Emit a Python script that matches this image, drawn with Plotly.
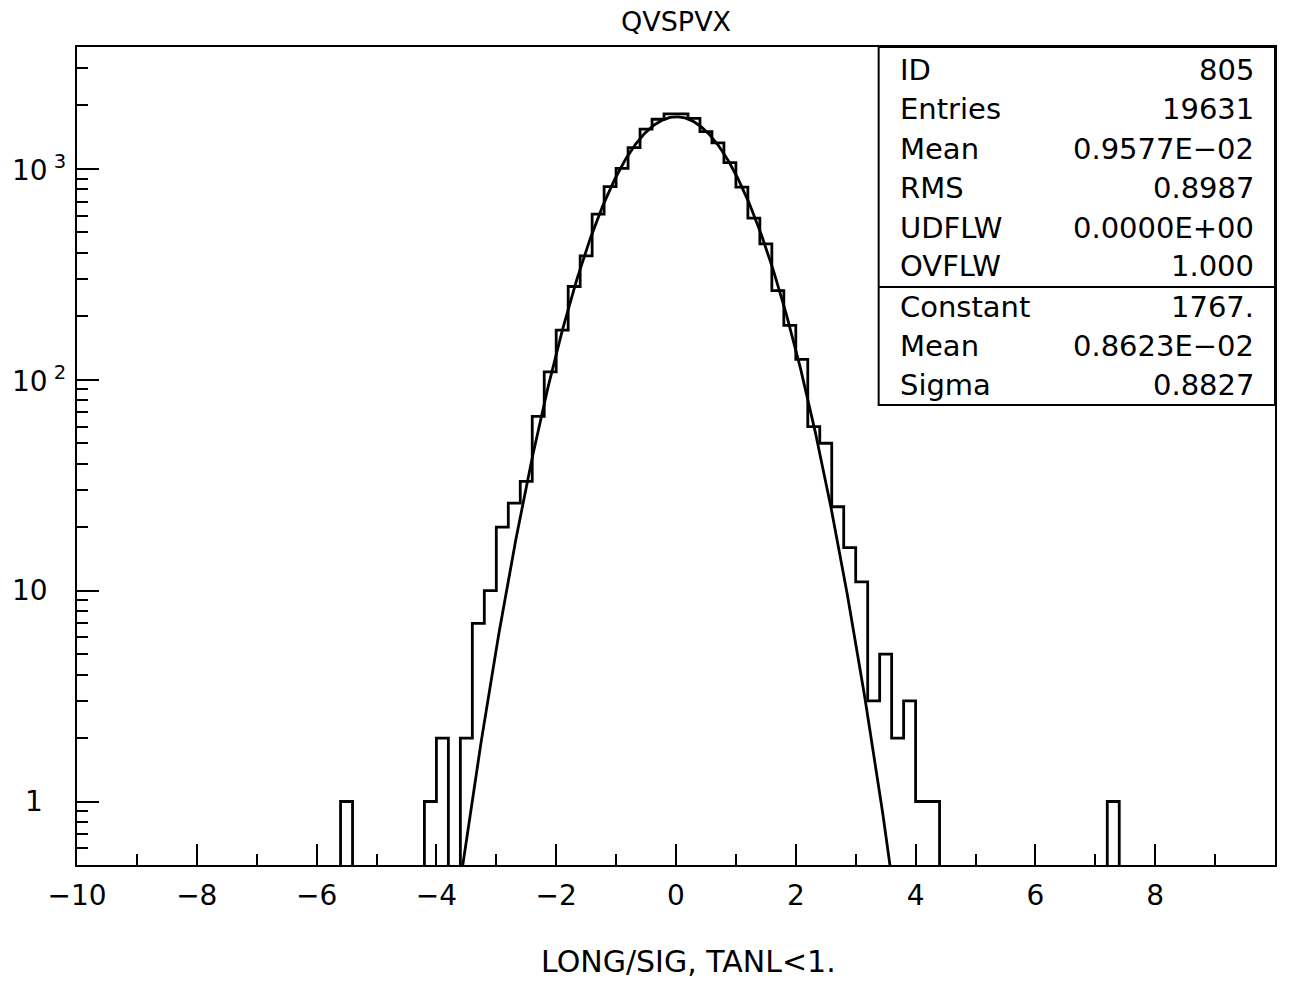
import numpy as np
import plotly.graph_objects as go

# ---------------- data ----------------
X_MIN, X_MAX, BIN_W = -10.0, 10.0, 0.2
Y_MIN, Y_MAX = 0.5, 3786.0

bin_low = [-5.6, -4.2, -4.0, -3.6, -3.4, -3.2, -3.0, -2.8, -2.6, -2.4,
           -2.2, -2.0, -1.8, -1.6, -1.4, -1.2, -1.0, -0.8, -0.6, -0.4,
           -0.2, 0.0, 0.2, 0.4, 0.6, 0.8, 1.0, 1.2, 1.4, 1.6,
           1.8, 2.0, 2.2, 2.4, 2.6, 2.8, 3.0, 3.2, 3.4, 3.6,
           3.8, 4.0, 4.2, 7.2]
counts = [1, 1, 2, 2, 7, 10, 20, 26, 33, 67,
          109, 172, 277, 387, 610, 824, 1007, 1262, 1545, 1720,
          1823, 1823, 1738, 1503, 1330, 1072, 819, 584, 441, 265,
          181, 125, 60, 50, 25, 16, 11, 3, 5, 2,
          3, 1, 1, 1]

# Gaussian fit parameters (from the stats box)
fit_constant = 1767.0
fit_mean = 0.8623e-02
fit_sigma = 0.8827

x_major = [-10, -8, -6, -4, -2, 0, 2, 4, 6, 8]
x_minor = [-9, -7, -5, -3, -1, 1, 3, 5, 7, 9]
y_major = [1, 10, 100, 1000]
y_major_text = ["1", "10", "10<sup> 2</sup>", "10<sup> 3</sup>"]
y_minor = [0.6, 0.7, 0.8, 0.9] + [m * d for d in (1, 10, 100) for m in range(2, 10)] + [2000, 3000]

stats_labels = ["ID", "Entries", "Mean", "RMS", "UDFLW", "OVFLW", "Constant", "Mean", "Sigma"]
stats_values = ["805", "19631", "0.9577E\u221202", "0.8987", "0.0000E+00", "1.000",
                "1767.", "0.8623E\u221202", "0.8827"]

title_text = "QVSPVX"
xtitle_text = "LONG/SIG, TANL&lt;1."

# ---------------- build ----------------
FONT = "DejaVu Sans"
W, H = 1289, 981
L, R, T, B = 77, 12, 47, 116
PW, PH = W - L - R, H - T - B


def px_x(px):
    return (px - L) / PW


def px_y(py):
    return (H - B - py) / PH


nb = int(round((X_MAX - X_MIN) / BIN_W))
full = np.zeros(nb)
for lo, c in zip(bin_low, counts):
    full[int(round((lo - X_MIN) / BIN_W))] = c
edges = X_MIN + BIN_W * np.arange(nb + 1)
floor = 0.05
ys = np.where(full > 0, full, floor)
step_y = np.append(ys, ys[-1])

xs_fit = np.linspace(-3.9, 3.9, 600)
ys_fit = fit_constant * np.exp(-0.5 * ((xs_fit - fit_mean) / fit_sigma) ** 2)

fig = go.Figure()
fig.add_trace(go.Scatter(x=edges, y=step_y, mode="lines", line_shape="hv",
                         line=dict(color="black", width=2.8), showlegend=False,
                         hoverinfo="skip"))
fig.add_trace(go.Scatter(x=xs_fit, y=ys_fit, mode="lines",
                         line=dict(color="black", width=2.8), showlegend=False,
                         hoverinfo="skip"))

fig.update_layout(
    width=W, height=H,
    margin=dict(l=L, r=R, t=T, b=B),
    paper_bgcolor="white", plot_bgcolor="white",
    font=dict(family=FONT, color="black", size=28),
)

fig.update_xaxes(
    range=[X_MIN, X_MAX], showgrid=False, zeroline=False,
    showline=True, linecolor="black", linewidth=2, mirror=True,
    tickmode="array", tickvals=x_major,
    ticks="inside", ticklen=21, tickwidth=2, tickcolor="black",
    tickfont=dict(family=FONT, size=28, color="black"),
    ticklabelstandoff=4,
    minor=dict(tickmode="array", tickvals=x_minor, ticks="inside", ticklen=11,
               tickwidth=2, tickcolor="black", showgrid=False),
)
fig.update_yaxes(
    type="log", range=[np.log10(Y_MIN), np.log10(Y_MAX)],
    showgrid=False, zeroline=False,
    showline=True, linecolor="black", linewidth=2, mirror=True,
    tickmode="array", tickvals=y_major, showticklabels=False,
    ticks="inside", ticklen=22, tickwidth=2, tickcolor="black",
    minor=dict(tickmode="array", tickvals=y_minor, ticks="inside", ticklen=11,
               tickwidth=2, tickcolor="black", showgrid=False),
)

annotations = []
for v, t in zip(y_major, y_major_text):
    annotations.append(dict(x=px_x(10), xref="paper", y=np.log10(v), yref="y",
                            text=t, showarrow=False,
                            xanchor="center" if v == 1 else "left", yanchor="middle",
                            font=dict(family=FONT, size=28, color="black")))
annotations[0]["x"] = px_x(34)

annotations.append(dict(x=0.5, xref="paper", y=px_y(22), yref="paper", text=title_text,
                        showarrow=False, xanchor="center", yanchor="middle",
                        font=dict(family=FONT, size=27, color="black")))
annotations.append(dict(x=px_x(690), xref="paper", y=px_y(961), yref="paper", text=xtitle_text,
                        showarrow=False, xanchor="center", yanchor="middle",
                        font=dict(family=FONT, size=30, color="black")))

row_y = [70, 109, 149, 188, 228, 266, 307, 346, 385]
for lab, val, ry in zip(stats_labels, stats_values, row_y):
    annotations.append(dict(x=px_x(899), xref="paper", y=px_y(ry), yref="paper", text=lab,
                            showarrow=False, xanchor="left", yanchor="middle",
                            font=dict(family=FONT, size=29, color="black")))
    annotations.append(dict(x=px_x(1258), xref="paper", y=px_y(ry), yref="paper", text=val,
                            showarrow=False, xanchor="right", yanchor="middle",
                            font=dict(family=FONT, size=29, color="black")))

fig.update_layout(annotations=annotations)

fig.add_shape(type="rect", xref="paper", yref="paper",
              x0=px_x(880), x1=1.0, y0=px_y(405), y1=1.0,
              line=dict(color="black", width=2), fillcolor="white", layer="above")
fig.add_shape(type="line", xref="paper", yref="paper",
              x0=px_x(880), x1=1.0, y0=px_y(287), y1=px_y(287),
              line=dict(color="black", width=2), layer="above")

fig.write_html("out.html")
